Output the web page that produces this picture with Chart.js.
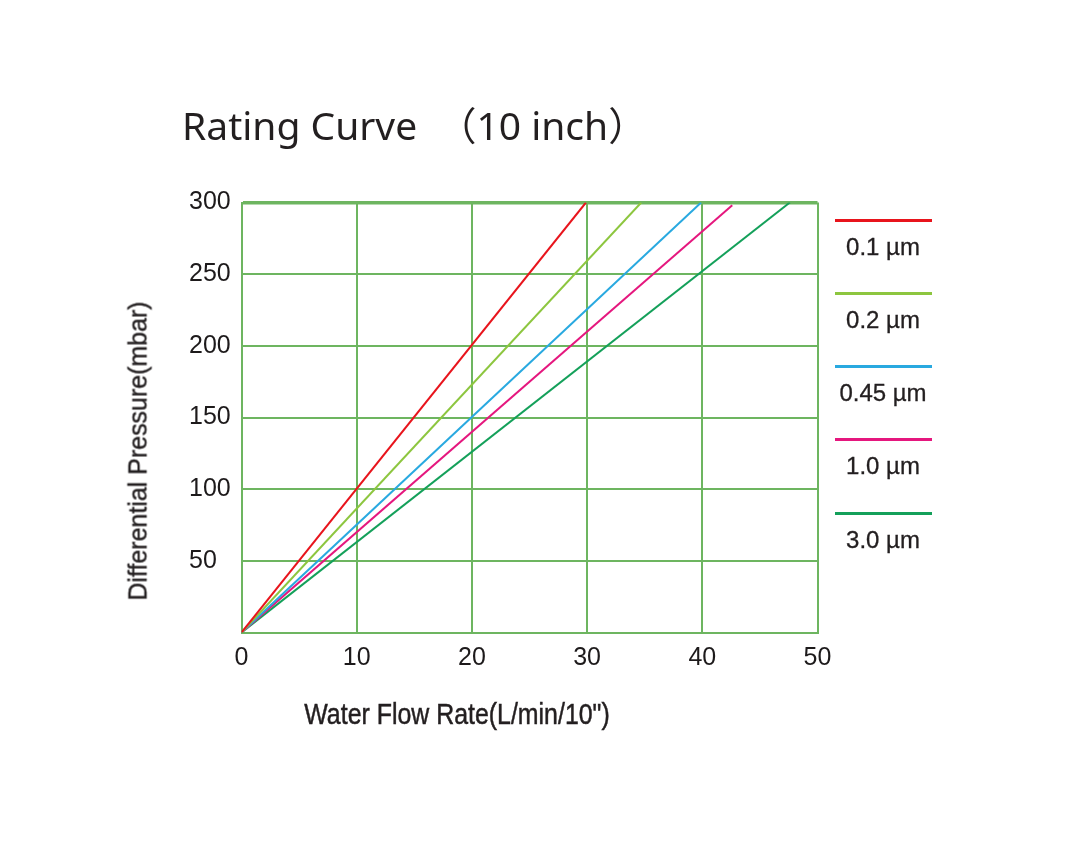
<!DOCTYPE html>
<html>
<head>
<meta charset="utf-8">
<script src="https://cdn.jsdelivr.net/npm/chart.js@4.4.1/dist/chart.umd.min.js"></script>
<style>
  html, body { margin: 0; padding: 0; background: #ffffff; }
  #wrap { position: relative; width: 1068px; height: 864px; overflow: hidden; }
  #chart { position: absolute; left: 0; top: 0; }
  .txt { position: absolute; white-space: pre; line-height: 1; color: #231f20; }
  #title { left: 182px; top: 95px; font: 39px "Noto Sans", "Noto Sans CJK SC", sans-serif; }
  #xTitle { left: 457px; top: 714px; font: 30px "Liberation Sans", Arial, sans-serif;
            -webkit-text-stroke: 0.5px #231f20;
            transform: translate(-50%, -50%) scaleX(0.83); }
  #yTitle { left: 138px; top: 451px; font: 26px "Liberation Sans", Arial, sans-serif;
            -webkit-text-stroke: 0.4px #231f20;
            transform: translate(-50%, -50%) rotate(-90deg) scaleX(0.96); }
  .legLine { position: absolute; height: 3px; width: 97px; }
  .legText { position: absolute; font: 24px "Liberation Sans", Arial, sans-serif; color: #231f20;
             -webkit-text-stroke: 0.3px #231f20;
             white-space: nowrap; line-height: 1; transform: translate(-50%, -50%); }
</style>
</head>
<body>
<div id="wrap">
  <canvas id="chart" width="1068" height="864"></canvas>
  <div id="title" class="txt">Rating Curve  （10 inch）</div>
  <div id="yTitle" class="txt">Differential Pressure(mbar)</div>
  <div id="xTitle" class="txt">Water Flow Rate(L/min/10")</div>
</div>
<script>
// pore sizes (series names)
const poreSizes = ['0.1 µm', '0.2 µm', '0.45 µm', '1.0 µm', '3.0 µm'];
const lineColors = ['#e8141c', '#8dc63f', '#29a9e0', '#e5177e', '#14a05a'];

// each curve: flow rate (L/min/10") and differential pressure (mbar)
const flow01 = [0, 29.9];   const dp01 = [0, 300];
const flow02 = [0, 34.7];   const dp02 = [0, 300];
const flow045 = [0, 39.9];  const dp045 = [0, 300];
const flow10 = [0, 42.6];   const dp10 = [0, 298];
const flow30 = [0, 47.6];   const dp30 = [0, 300];

const flowSeries = [flow01, flow02, flow045, flow10, flow30];
const dpSeries = [dp01, dp02, dp045, dp10, dp30];

// axis ticks
const xTickValues = [0, 10, 20, 30, 40, 50];
const yTickValues = [0, 50, 100, 150, 200, 250, 300];

const gridGreen = '#6db560';
const tickFont = { family: '"Liberation Sans", Arial, sans-serif', size: 25 };

const datasets = poreSizes.map((name, i) => ({
  label: name,
  data: flowSeries[i].map((x, j) => ({ x: x, y: dpSeries[i][j] })),
  borderColor: lineColors[i],
  backgroundColor: lineColors[i],
  borderWidth: 2,
  showLine: true,
  pointRadius: 0,
  tension: 0
}));

const ctx = document.getElementById('chart').getContext('2d');
new Chart(ctx, {
  type: 'scatter',
  data: { datasets: datasets },
  options: {
    responsive: false,
    animation: false,
    devicePixelRatio: 1,
    layout: { padding: { left: 189, top: 202.5, right: 250.5, bottom: 0 } },
    plugins: {
      legend: { display: false },
      tooltip: { enabled: false }
    },
    scales: {
      x: {
        type: 'linear',
        min: 0,
        max: 50,
        afterBuildTicks: (scale) => { scale.ticks = xTickValues.map(v => ({ value: v })); },
        afterFit: (scale) => { scale.height = 231.5; scale.paddingLeft = 0; scale.paddingRight = 0; },
        ticks: { color: '#1d1a1b', font: tickFont, padding: 11, maxRotation: 0 },
        grid: { color: gridGreen, lineWidth: 2, drawTicks: false },
        border: { color: gridGreen, width: 2 }
      },
      y: {
        type: 'linear',
        min: 0,
        max: 300,
        afterBuildTicks: (scale) => { scale.ticks = yTickValues.map(v => ({ value: v })); },
        afterFit: (scale) => { scale.width = 52.5; scale.paddingTop = 0; scale.paddingBottom = 0; },
        ticks: {
          color: '#1d1a1b',
          font: tickFont,
          crossAlign: 'far',
          callback: (v) => (v === 0 ? '' : v)
        },
        grid: {
          color: gridGreen,
          drawTicks: false,
          lineWidth: (c) => (c.tick && c.tick.value === 300 ? 3.5 : 2)
        },
        border: { color: gridGreen, width: 2 }
      }
    }
  }
});

// legend at the right, one line with its label under it
const wrap = document.getElementById('wrap');
poreSizes.forEach((name, i) => {
  const yLine = 220 + i * 73.3;
  const line = document.createElement('div');
  line.className = 'legLine';
  line.style.left = '835px';
  line.style.top = (yLine - 1.5) + 'px';
  line.style.background = lineColors[i];
  wrap.appendChild(line);

  const t = document.createElement('div');
  t.className = 'legText';
  t.style.left = '883px';
  t.style.top = (yLine + 26.5) + 'px';
  t.textContent = name;
  wrap.appendChild(t);
});
</script>
</body>
</html>
